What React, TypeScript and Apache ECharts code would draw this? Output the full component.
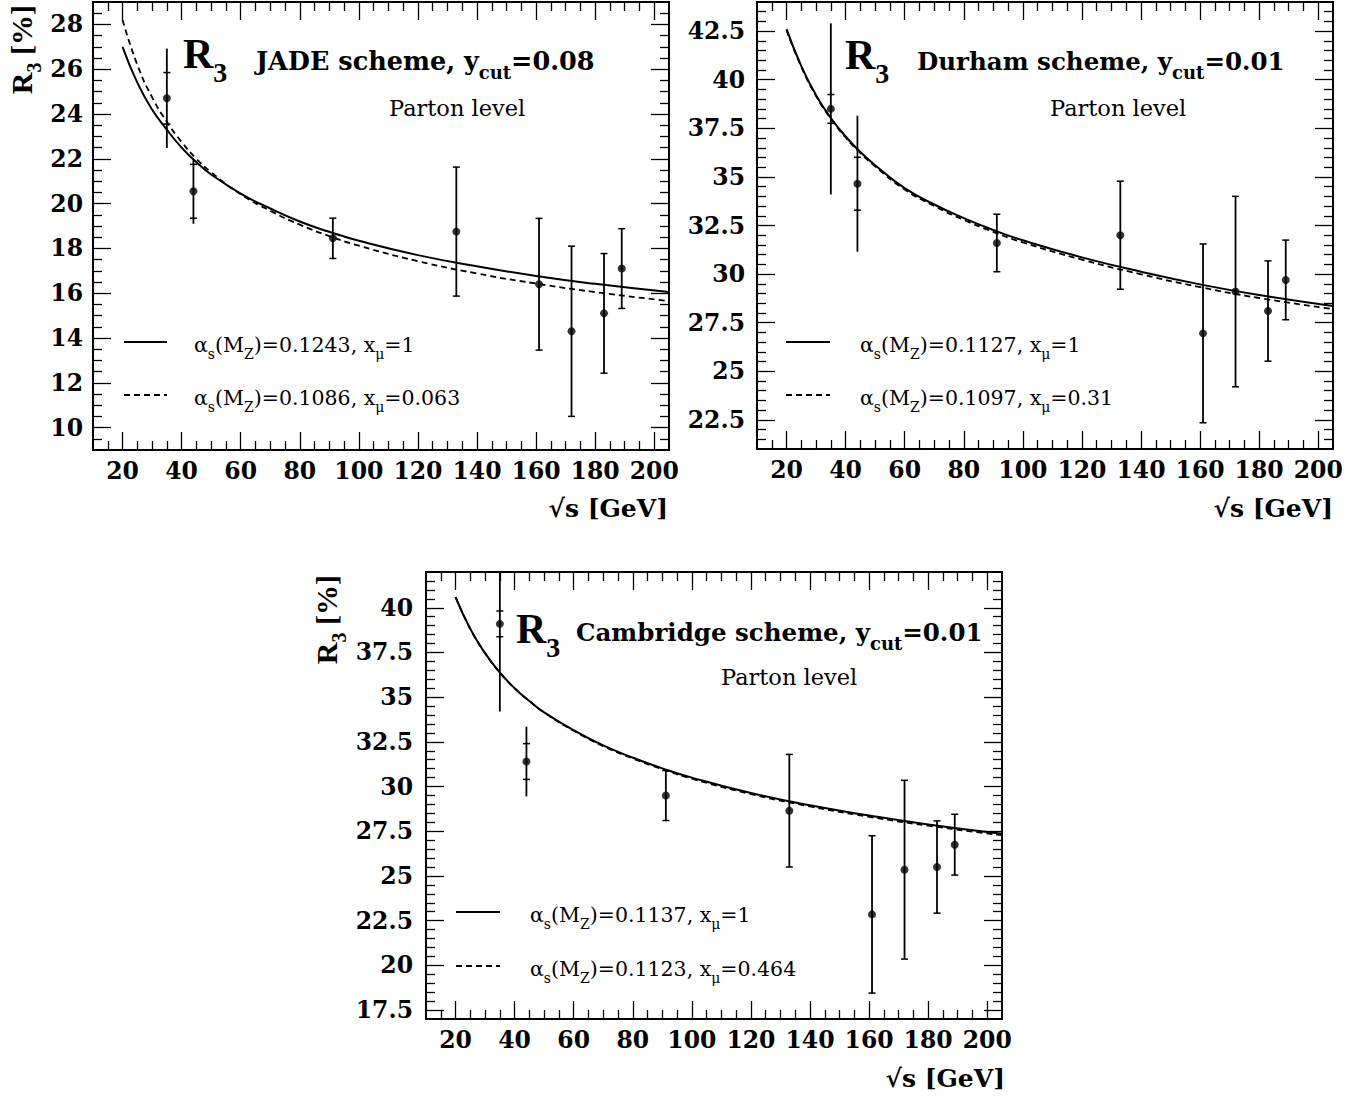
import React, { useEffect, useRef } from "react";
import * as echarts from "echarts";

// ---------------- data ----------------
const energies = [35, 44, 91.2, 133, 161, 172, 183, 189];

const jadeR3 = [24.7, 20.55, 18.45, 18.75, 16.4, 14.3, 15.1, 17.1];
const jadeTotErr = [2.22, 1.45, 0.9, 2.88, 2.94, 3.8, 2.67, 1.78];
const jadeStatErr = [1.15, 1.2, 0, 0, 0, 0, 0, 0];

const durhamR3 = [38.5, 34.65, 31.6, 32.0, 26.95, 29.1, 28.1, 29.7];
const durhamTotErr = [4.4, 3.5, 1.48, 2.78, 4.6, 4.9, 2.58, 2.05];
const durhamStatErr = [0.74, 1.36, 0, 0, 0, 0, 0, 0];

const cambridgeR3 = [39.1, 31.4, 29.5, 28.65, 22.85, 25.35, 25.5, 26.75];
const cambridgeTotErr = [4.9, 1.95, 1.4, 3.15, 4.4, 5.0, 2.58, 1.7];
const cambridgeStatErr = [0.72, 1.0, 0, 0, 0, 0, 0, 0];

const curveEnergies = [20, 25, 30, 35, 40, 45, 50, 60, 70, 80, 90, 100, 120, 140, 160, 180, 205];
const jadeSolid = [27.0, 25.4, 24.2, 23.3, 22.5, 21.85, 21.3, 20.45, 19.78, 19.2, 18.74, 18.34, 17.7, 17.2, 16.77, 16.42, 16.05];
const jadeDashed = [28.2, 26.2, 24.75, 23.65, 22.75, 22.0, 21.4, 20.42, 19.68, 19.06, 18.55, 18.12, 17.43, 16.88, 16.43, 16.05, 15.65];
const durhamSolid = [42.6, 40.7, 39.2, 38.03, 37.08, 36.28, 35.6, 34.42, 33.58, 32.88, 32.27, 31.74, 30.86, 30.12, 29.47, 28.92, 28.36];
const durhamDashed = [42.55, 40.66, 39.16, 37.99, 37.03, 36.23, 35.54, 34.35, 33.5, 32.79, 32.17, 31.63, 30.74, 29.99, 29.33, 28.77, 28.2];
const cambridgeSolid = [40.6, 38.82, 37.46, 36.38, 35.5, 34.78, 34.15, 33.15, 32.3, 31.62, 31.02, 30.5, 29.64, 28.95, 28.38, 27.88, 27.36];
const cambridgeDashed = [40.6, 38.82, 37.46, 36.38, 35.5, 34.78, 34.14, 33.12, 32.26, 31.57, 30.97, 30.44, 29.58, 28.89, 28.31, 27.81, 27.28];

const xTickLabels = [20, 40, 60, 80, 100, 120, 140, 160, 180, 200];
const jadeYTickLabels = [10, 12, 14, 16, 18, 20, 22, 24, 26, 28];
const durhamYTickLabels = [22.5, 25, 27.5, 30, 32.5, 35, 37.5, 40, 42.5];
const cambridgeYTickLabels = [17.5, 20, 22.5, 25, 27.5, 30, 32.5, 35, 37.5, 40];

const legendTexts = [
  ["{m|α}{s|s}{m|(M}{s|Z}{m|)=0.1243, x}{s|μ}{m|=1}", "{m|α}{s|s}{m|(M}{s|Z}{m|)=0.1086, x}{s|μ}{m|=0.063}"],
  ["{m|α}{s|s}{m|(M}{s|Z}{m|)=0.1127, x}{s|μ}{m|=1}", "{m|α}{s|s}{m|(M}{s|Z}{m|)=0.1097, x}{s|μ}{m|=0.31}"],
  ["{m|α}{s|s}{m|(M}{s|Z}{m|)=0.1137, x}{s|μ}{m|=1}", "{m|α}{s|s}{m|(M}{s|Z}{m|)=0.1123, x}{s|μ}{m|=0.464}"],
];
const schemeTitles = [
  "{m|JADE scheme, y}{s|cut}{m|=0.08}",
  "{m|Durham scheme, y}{s|cut}{m|=0.01}",
  "{m|Cambridge scheme, y}{s|cut}{m|=0.01}",
];

// ---------------- layout ----------------
const X_MIN = 10;
const X_MAX = 205;

const panels = [
  {
    grid: { left: 93, top: 2, width: 576, height: 448 },
    yMin: 9, yMax: 29, yTicks: jadeYTickLabels,
    values: jadeR3, tot: jadeTotErr, stat: jadeStatErr, solid: jadeSolid, dashed: jadeDashed,
    r3: { x: 183, b: 68 }, title: { x: 256, b: 69.5, fs: 25.5 }, parton: { x: 389, b: 115 },
    leg: { x1: 124, x2: 167, y1: 342, y2: 395, tx: 194 },
    xTitle: { x: 668, b: 517 }, yTitle: { bx: 32, y: 5 }, yLabelMargin: 10,
  },
  {
    grid: { left: 757, top: 2, width: 576, height: 447 },
    yMin: 21, yMax: 44, yTicks: durhamYTickLabels,
    values: durhamR3, tot: durhamTotErr, stat: durhamStatErr, solid: durhamSolid, dashed: durhamDashed,
    r3: { x: 845, b: 69 }, title: { x: 917, b: 69.5, fs: 24.5 }, parton: { x: 1050, b: 115 },
    leg: { x1: 786, x2: 830, y1: 342, y2: 395, tx: 860 },
    xTitle: { x: 1333, b: 517 }, yTitle: null, yLabelMargin: 12,
  },
  {
    grid: { left: 426, top: 572, width: 576, height: 447 },
    yMin: 17, yMax: 42, yTicks: cambridgeYTickLabels,
    values: cambridgeR3, tot: cambridgeTotErr, stat: cambridgeStatErr, solid: cambridgeSolid, dashed: cambridgeDashed,
    r3: { x: 516, b: 643 }, title: { x: 576, b: 641, fs: 24.5 }, parton: { x: 721, b: 684 },
    leg: { x1: 456, x2: 500, y1: 912, y2: 966, tx: 530 },
    xTitle: { x: 1005, b: 1087 }, yTitle: { bx: 337, y: 575 }, yLabelMargin: 13,
  },
];

function minorTicks(min: number, max: number, step: number, majors: number[]) {
  const out: number[] = [];
  const n = Math.round((max - min) / step) + 2;
  for (let i = 0; i < n; i++) {
    const v = Math.round((Math.ceil(min / step) + i) * step * 1000) / 1000;
    if (v > min && v < max && !majors.some((m) => Math.abs(m - v) < 1e-6)) out.push(v);
  }
  return out;
}

const SERIF = "DejaVu Serif";
const TIMES = "Liberation Serif";
const K = 0.34;

// main tokens hang from the line top, subscript tokens sit on the line bottom
function richStyles(family: string, weight: string, S: number, s: number, drop: number) {
  const L = drop + (0.5 + K) * S + (0.5 - K) * s;
  return {
    m: { fontFamily: family, fontWeight: weight, fontSize: S, lineHeight: S, verticalAlign: "top", fill: "#000" },
    s: { fontFamily: family, fontWeight: weight, fontSize: s, lineHeight: L, verticalAlign: "bottom", fill: "#000" },
  };
}

function richText(x: number, baseline: number, text: string, family: string, weight: string, S: number, s: number, drop: number, align = "left") {
  return {
    type: "text",
    x,
    y: baseline - (0.5 + K) * S,
    silent: true,
    style: { text, align, verticalAlign: "top", rich: richStyles(family, weight, S, s, drop) },
  };
}

const tickLine = { color: "#000", width: 1.3 };
const axisFont = { fontFamily: SERIF, fontWeight: "bold", fontSize: 23.5, color: "#000" };

function renderErrorBar(params: any, api: any) {
  const x = api.value(0);
  const v = api.value(1);
  const tot = api.value(2);
  const st = api.value(3);
  const cs = params.coordSys;
  const yTop = cs.y;
  const yBot = cs.y + cs.height;
  const clamp = (y: number) => Math.min(yBot, Math.max(yTop, y));
  const hi = api.coord([x, v + tot]);
  const lo = api.coord([x, v - tot]);
  const px = hi[0];
  const children: any[] = [
    { type: "line", shape: { x1: px, y1: clamp(hi[1]), x2: px, y2: clamp(lo[1]) }, style: { stroke: "#000", lineWidth: 1.8 } },
  ];
  const caps = st > 0 ? [v + st, v - st] : [v + tot, v - tot];
  caps.forEach((cv) => {
    const p = api.coord([x, cv]);
    if (p[1] >= yTop && p[1] <= yBot) {
      children.push({ type: "line", shape: { x1: px - 3.5, y1: p[1], x2: px + 3.5, y2: p[1] }, style: { stroke: "#000", lineWidth: 1.5 } });
    }
  });
  return { type: "group", children };
}

function buildOption() {
  const grids: any[] = [];
  const xAxes: any[] = [];
  const yAxes: any[] = [];
  const series: any[] = [];
  const graphics: any[] = [];
  const xMinor = minorTicks(X_MIN, X_MAX, 5, xTickLabels);

  panels.forEach((p, g) => {
    grids.push({
      ...p.grid, show: true, borderColor: "#000", borderWidth: 2,
      backgroundColor: "transparent", containLabel: false, outerBoundsMode: "none",
    });
    const yMinor = minorTicks(p.yMin, p.yMax, 0.5, p.yTicks);
    const xBase = {
      gridIndex: g, type: "value", min: X_MIN, max: X_MAX,
      axisLine: { show: false }, splitLine: { show: false }, minorTick: { show: false },
    };
    xAxes.push(
      { ...xBase, position: "bottom", axisTick: { show: true, inside: true, length: 18, customValues: xTickLabels, lineStyle: tickLine },
        axisLabel: { show: true, customValues: xTickLabels, margin: 9, ...axisFont } },
      { ...xBase, position: "bottom", axisTick: { show: true, inside: true, length: 9, customValues: xMinor, lineStyle: tickLine }, axisLabel: { show: false } },
      { ...xBase, position: "top", axisTick: { show: true, inside: true, length: 18, customValues: xTickLabels, lineStyle: tickLine }, axisLabel: { show: false } },
      { ...xBase, position: "top", axisTick: { show: true, inside: true, length: 9, customValues: xMinor, lineStyle: tickLine }, axisLabel: { show: false } }
    );
    const yBase = {
      gridIndex: g, type: "value", min: p.yMin, max: p.yMax,
      axisLine: { show: false }, splitLine: { show: false }, minorTick: { show: false },
    };
    yAxes.push(
      { ...yBase, position: "left", axisTick: { show: true, inside: true, length: 18, customValues: p.yTicks, lineStyle: tickLine },
        axisLabel: { show: true, customValues: p.yTicks, margin: p.yLabelMargin, ...axisFont } },
      { ...yBase, position: "left", axisTick: { show: true, inside: true, length: 9, customValues: yMinor, lineStyle: tickLine }, axisLabel: { show: false } },
      { ...yBase, position: "right", axisTick: { show: true, inside: true, length: 18, customValues: p.yTicks, lineStyle: tickLine }, axisLabel: { show: false } },
      { ...yBase, position: "right", axisTick: { show: true, inside: true, length: 9, customValues: yMinor, lineStyle: tickLine }, axisLabel: { show: false } }
    );

    const xi = g * 4;
    const yi = g * 4;
    series.push(
      {
        type: "line", xAxisIndex: xi, yAxisIndex: yi, silent: true, symbol: "none", showSymbol: false,
        smooth: 0.5, z: 3,
        data: curveEnergies.map((x, i) => [x, p.solid[i]]),
        lineStyle: { color: "#000", width: 2 },
      },
      {
        type: "line", xAxisIndex: xi, yAxisIndex: yi, silent: true, symbol: "none", showSymbol: false,
        smooth: 0.5, z: 3,
        data: curveEnergies.map((x, i) => [x, p.dashed[i]]),
        lineStyle: { color: "#000", width: 1.8, type: [6, 4] },
      },
      {
        type: "custom", xAxisIndex: xi, yAxisIndex: yi, silent: true, z: 4,
        renderItem: renderErrorBar, encode: { x: 0, y: 1 },
        data: energies.map((e, i) => [e, p.values[i], p.tot[i], p.stat[i]]),
      },
      {
        type: "scatter", xAxisIndex: xi, yAxisIndex: yi, silent: true, z: 5,
        symbol: "circle", symbolSize: 8, itemStyle: { color: "#000" },
        data: energies.map((e, i) => [e, p.values[i]]),
      }
    );

    // texts
    graphics.push(richText(p.r3.x, p.r3.b, "{m|R}{s|3}", TIMES, "bold", 42, 28, 14));
    graphics.push(richText(p.title.x, p.title.b, schemeTitles[g], SERIF, "bold", p.title.fs, 18, 9));
    graphics.push(richText(p.parton.x, p.parton.b, "{m|Parton level}", SERIF, "normal", 22.5, 15, 0));
    graphics.push({ type: "line", silent: true, shape: { x1: p.leg.x1, y1: p.leg.y1, x2: p.leg.x2, y2: p.leg.y1 }, style: { stroke: "#000", lineWidth: 2 } });
    graphics.push({ type: "line", silent: true, shape: { x1: p.leg.x1, y1: p.leg.y2, x2: p.leg.x2, y2: p.leg.y2 }, style: { stroke: "#000", lineWidth: 1.8, lineDash: [6, 4] } });
    graphics.push(richText(p.leg.tx, p.leg.y1 + 10, legendTexts[g][0], SERIF, "normal", 20.5, 14, 7));
    graphics.push(richText(p.leg.tx, p.leg.y2 + 10, legendTexts[g][1], SERIF, "normal", 20.5, 14, 7));
    graphics.push(richText(p.xTitle.x, p.xTitle.b, "{m|√s [GeV]}", SERIF, "bold", 25, 18, 0, "right"));
    if (p.yTitle) {
      const S = 30;
      graphics.push({
        type: "text", silent: true,
        x: p.yTitle.bx - (0.5 + K) * S, y: p.yTitle.y, rotation: Math.PI / 2,
        style: { text: "{m|R}{s|3}{m| [%]}", align: "right", verticalAlign: "top", rich: richStyles(TIMES, "bold", S, 20, 9) },
      });
    }
  });

  return {
    animation: false,
    backgroundColor: "#fff",
    grid: grids,
    xAxis: xAxes,
    yAxis: yAxes,
    series,
    graphic: { elements: graphics },
  };
}

export default function App() {
  const ref = useRef<HTMLDivElement>(null);
  useEffect(() => {
    if (!ref.current) return;
    const chart = echarts.init(ref.current, undefined, { renderer: "svg" });
    chart.setOption(buildOption() as any);
    return () => chart.dispose();
  }, []);
  return <div ref={ref} style={{ position: "absolute", left: 0, top: 0, width: 1366, height: 1097, background: "#fff" }} />;
}
